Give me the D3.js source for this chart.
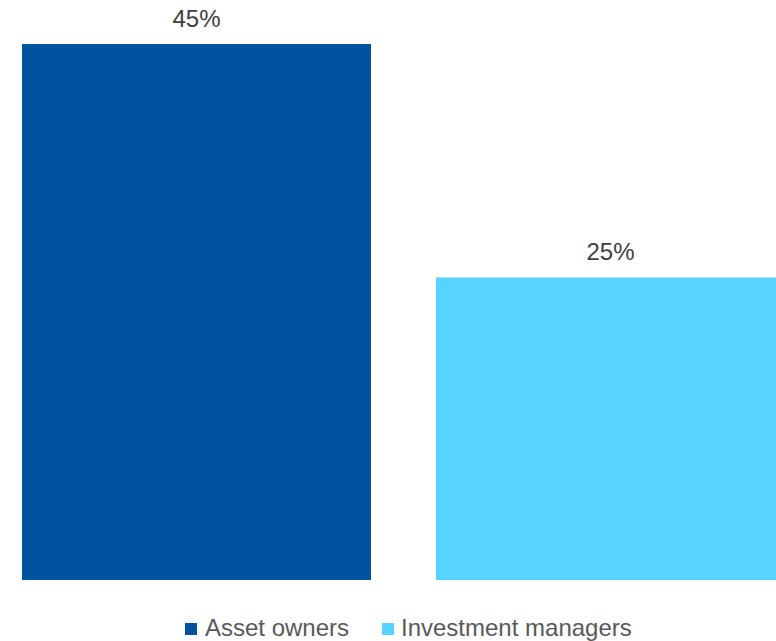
<!DOCTYPE html>
<html>
<head>
<meta charset="utf-8">
<script src="https://cdn.jsdelivr.net/npm/d3@7"></script>
<style>
  body { margin: 0; background: #fff; }
  svg { display: block; font-family: "Liberation Sans", Arial, sans-serif; }
</style>
</head>
<body>
<div id="chart"></div>
<script>
(function () {
    var width = 776, height = 641;

    // data
    var seriesNames = ["Asset owners", "Investment managers"];
    var seriesValues = [45, 25.4];
    var seriesColors = ["#00519E", "#57D3FF"];

    var svg = d3.select("#chart")
        .append("svg")
        .attr("width", width)
        .attr("height", height);

    // scales
    var x = d3.scaleBand()
        .domain(seriesNames)
        .range([22, 785])
        .paddingInner(65 / 414)
        .paddingOuter(0);

    var y = d3.scaleLinear()
        .domain([0, 45])
        .range([580, 44]);

    // bars
    svg.selectAll(".bar")
        .data(seriesNames)
        .enter().append("rect")
        .attr("class", "bar")
        .attr("x", function (d) { return x(d); })
        .attr("width", x.bandwidth())
        .attr("y", function (d, i) { return y(seriesValues[i]); })
        .attr("height", function (d, i) { return y(0) - y(seriesValues[i]); })
        .attr("fill", function (d, i) { return seriesColors[i]; });

    // value labels
    svg.selectAll(".label")
        .data(seriesNames)
        .enter().append("text")
        .attr("class", "label")
        .attr("x", function (d) { return x(d) + x.bandwidth() / 2; })
        .attr("y", function (d, i) { return y(seriesValues[i]) - 17; })
        .attr("text-anchor", "middle")
        .attr("font-size", 24)
        .attr("fill", "#404040")
        .text(function (d, i) { return Math.round(seriesValues[i]) + "%"; });

    // legend
    var legend = svg.append("g").attr("transform", "translate(0,636)");
    var starts = [185, 382];
    seriesNames.forEach(function (name, i) {
        var g = legend.append("g").attr("transform", "translate(" + starts[i] + ",0)");
        g.append("rect")
            .attr("x", 0).attr("y", -13)
            .attr("width", 12).attr("height", 12)
            .attr("fill", seriesColors[i]);
        g.append("text")
            .attr("x", i === 0 ? 20 : 19)
            .attr("y", 0)
            .attr("font-size", 24)
            .attr("fill", "#595959")
            .text(name);
    });
})();
</script>
</body>
</html>
